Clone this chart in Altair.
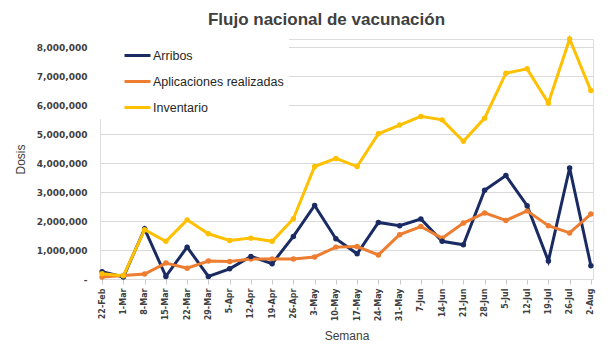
import altair as alt
import pandas as pd

semanas = ["22-Feb", "1-Mar", "8-Mar", "15-Mar", "22-Mar", "29-Mar", "5-Apr", "12-Apr",
           "19-Apr", "26-Apr", "3-May", "10-May", "17-May", "24-May", "31-May", "7-Jun",
           "14-Jun", "21-Jun", "28-Jun", "5-Jul", "12-Jul", "19-Jul", "26-Jul", "2-Aug"]

arribos = [250000, 70000, 1730000, 90000, 1100000, 90000, 350000, 780000,
           530000, 1470000, 2540000, 1390000, 870000, 1950000, 1840000, 2070000,
           1300000, 1180000, 3060000, 3570000, 2530000, 620000, 3830000, 460000]

aplicaciones = [70000, 120000, 170000, 550000, 370000, 620000, 600000, 690000,
                690000, 690000, 760000, 1100000, 1120000, 830000, 1530000, 1810000,
                1410000, 1930000, 2280000, 2020000, 2350000, 1840000, 1590000, 2240000]

inventario = [180000, 110000, 1700000, 1300000, 2040000, 1560000, 1330000, 1410000,
              1300000, 2080000, 3880000, 4160000, 3880000, 5010000, 5310000, 5610000,
              5490000, 4750000, 5550000, 7100000, 7250000, 6070000, 8280000, 6500000]

series_names = ["Arribos", "Aplicaciones realizadas", "Inventario"]
series_colors = ["#1A2B63", "#ED7D31", "#FFC000"]
y_ticks = [0, 1000000, 2000000, 3000000, 4000000, 5000000, 6000000, 7000000, 8000000]

rows = []
for name, vals in zip(series_names, [arribos, aplicaciones, inventario]):
    for s, v in zip(semanas, vals):
        rows.append({"Semana": s, "Serie": name, "Dosis": v})
df = pd.DataFrame(rows)

chart = alt.Chart(df).mark_line(
    strokeWidth=3,
    point=alt.OverlayMarkDef(filled=True, size=30),
).encode(
    x=alt.X("Semana:O", sort=semanas,
            scale=alt.Scale(padding=0.1),
            axis=alt.Axis(title="Semana", labelAngle=-90, labelFont="DejaVu Sans",
                          labelFontSize=8, labelFontWeight="bold", labelColor="#404040",
                          labelPadding=4, tickSize=5, tickColor="#C8C8C8",
                          domainColor="#D9D9D9", titleFont="Liberation Sans",
                          titleFontSize=12, titleFontWeight="normal", titleColor="#404040",
                          titlePadding=10, grid=False)),
    y=alt.Y("Dosis:Q",
            scale=alt.Scale(domain=[0, 8280000], nice=False),
            axis=alt.Axis(title="Dosis", values=y_ticks,
                          labelExpr="datum.value == 0 ? '-' : format(datum.value, ',')",
                          labelFont="DejaVu Sans", labelFontSize=9, labelFontWeight="bold",
                          labelColor="#404040", labelPadding=13, ticks=False, domain=False,
                          gridColor="#D9D9D9", titleFont="Liberation Sans", titleFontSize=12,
                          titleFontWeight="normal", titleColor="#404040", titlePadding=9)),
    color=alt.Color("Serie:N", sort=series_names,
                    scale=alt.Scale(domain=series_names, range=series_colors),
                    legend=alt.Legend(title=None, orient="none", legendX=0, legendY=-3,
                                      symbolType="stroke", symbolSize=676,
                                      symbolStrokeWidth=3, symbolOffset=18,
                                      labelFont="Liberation Sans", labelFontSize=12.5,
                                      labelColor="#262626", labelOffset=1,
                                      rowPadding=5, padding=5, fillColor="white")),
    order=alt.Order("Serie:N"),
).properties(
    width=493,
    height=240,
    title=alt.TitleParams("Flujo nacional de vacunación", font="Liberation Sans",
                          fontSize=17, fontWeight="bold", color="#404040",
                          anchor="middle", dx=-20, offset=4),
    autosize="none",
    padding={"left": 100, "top": 39, "right": 17, "bottom": 71},
).configure_view(
    stroke="#E6E6E6"
).configure(background="white")

chart.save("out.html", embed_options={"renderer": "svg", "actions": False})
